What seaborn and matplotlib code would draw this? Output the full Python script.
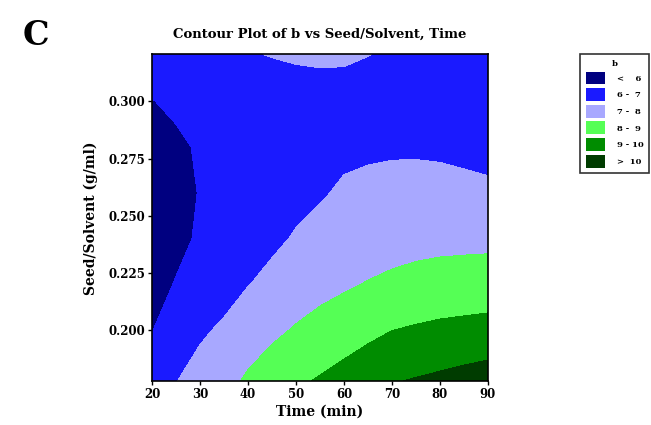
import numpy as np
import matplotlib
matplotlib.use("Agg")
import matplotlib.pyplot as plt
from matplotlib.patches import Patch
import seaborn as sns

# ----------------------------------------
# Data
# ----------------------------------------
time_min = [20, 25, 30, 35, 40, 45, 50, 55, 60, 65, 70, 75, 80, 85, 90]
seed_solvent = [0.1775, 0.20, 0.22, 0.24, 0.26, 0.28, 0.30, 0.3205]

# b values along Time, one list per Seed/Solvent level
b_s01775 = [6.60, 6.98, 7.38, 7.75, 8.12, 8.45, 8.85, 9.10, 9.36, 9.65, 9.95, 10.08, 10.20, 10.35, 10.50]
b_s0200 = [5.98, 6.40, 6.85, 7.15, 7.60, 7.83, 8.07, 8.30, 8.53, 8.76, 8.99, 9.10, 9.20, 9.25, 9.30]
b_s0220 = [5.75, 6.04, 6.31, 6.62, 6.97, 7.25, 7.55, 7.73, 7.88, 8.05, 8.20, 8.30, 8.37, 8.44, 8.50]
b_s0240 = [5.60, 5.82, 6.09, 6.33, 6.60, 6.82, 7.08, 7.22, 7.35, 7.50, 7.60, 7.70, 7.75, 7.75, 7.75]
b_s0260 = [5.60, 5.78, 6.03, 6.20, 6.40, 6.55, 6.75, 6.93, 7.10, 7.20, 7.30, 7.32, 7.30, 7.22, 7.15]
b_s0280 = [5.75, 5.88, 6.07, 6.20, 6.35, 6.45, 6.60, 6.72, 6.85, 6.87, 6.88, 6.88, 6.85, 6.80, 6.75]
b_s0300 = [5.98, 6.12, 6.30, 6.40, 6.50, 6.60, 6.70, 6.75, 6.80, 6.78, 6.72, 6.66, 6.60, 6.52, 6.45]
b_s03205 = [6.30, 6.42, 6.55, 6.72, 6.95, 7.03, 7.08, 7.10, 7.07, 7.01, 6.95, 6.78, 6.60, 6.47, 6.35]

b_levels = [0, 6, 7, 8, 9, 10, 20]
level_labels = ["<    6", "6 -  7", "7 -  8", "8 -  9", "9 - 10", ">  10"]
level_colors = ["#000080", "#1a1aff", "#a8a8ff", "#55ff55", "#008c00", "#003c00"]

b_grid = np.array([b_s01775, b_s0200, b_s0220, b_s0240,
                   b_s0260, b_s0280, b_s0300, b_s03205])

# ----------------------------------------
# Style
# ----------------------------------------
sns.set_theme(style="white")
plt.rcParams['font.family'] = ['DejaVu Serif', 'Liberation Serif']
plt.rcParams['font.weight'] = 'bold'
plt.rcParams['text.color'] = 'black'
plt.rcParams['axes.labelcolor'] = 'black'

fig = plt.figure(figsize=(6.51, 4.25), dpi=100)
ax = fig.add_axes([0.2335, 0.1024, 0.5161, 0.7694])

T, S = np.meshgrid(time_min, seed_solvent)
ax.contourf(T, S, b_grid, levels=b_levels, colors=level_colors, antialiased=False)

ax.set_xlim(20, 90)
ax.set_ylim(seed_solvent[0], seed_solvent[-1])
ax.set_xticks(list(range(20, 91, 10)))
ax.set_yticks([0.200, 0.225, 0.250, 0.275, 0.300])
ax.set_yticklabels(["0.200", "0.225", "0.250", "0.275", "0.300"])
ax.tick_params(axis='both', direction='out', length=3, width=1, labelsize=8.5,
               colors='black', left=True, bottom=True, pad=2)
for lab in ax.get_xticklabels() + ax.get_yticklabels():
    lab.set_fontweight('bold')
for spine in ax.spines.values():
    spine.set_color('black')
    spine.set_linewidth(1.2)

ax.set_xlabel("Time (min)", fontsize=10, fontweight='bold', labelpad=2)
ax.set_ylabel("Seed/Solvent (g/ml)", fontsize=10, fontweight='bold', labelpad=7)
ax.set_title("Contour Plot of b vs Seed/Solvent, Time", fontsize=9.5,
             fontweight='bold', pad=12)

fig.text(0.035, 0.955, "C", fontsize=24, fontweight='bold', va='top', ha='left')

# Legend
handles = [Patch(facecolor=c, edgecolor='none') for c in level_colors]
leg = fig.legend(handles, level_labels, title="b", loc='upper left',
                 bbox_to_anchor=(0.891, 0.873), borderaxespad=0, fontsize=6,
                 title_fontsize=6, frameon=True, fancybox=False,
                 handlelength=2.3, handleheight=2.0, handletextpad=1.4,
                 labelspacing=0.45, borderpad=0.7)
leg.get_frame().set_edgecolor('black')
leg.get_frame().set_linewidth(1.2)

plt.savefig("out.png", dpi=100)
